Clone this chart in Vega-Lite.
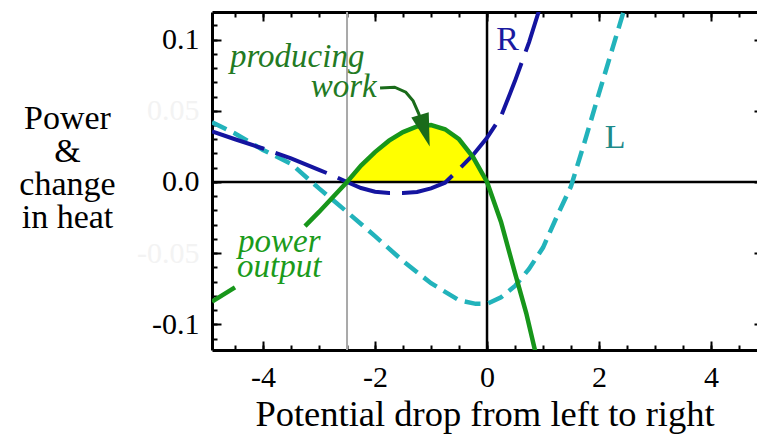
{
  "$schema": "https://vega.github.io/schema/vega-lite/v6.json",
  "width": 545,
  "height": 338,
  "autosize": "none",
  "padding": {"left": 212, "top": 12, "right": 0, "bottom": 84},
  "background": "white",
  "config": {
    "view": {"stroke": null},
    "font": "Liberation Serif",
    "axis": {"grid": false, "tickColor": "black", "tickWidth": 2, "domainColor": "black", "domainWidth": 3, "labelFont": "Liberation Serif", "titleFont": "Liberation Serif", "labelColor": "black", "titleColor": "black"},
    "text": {"font": "Liberation Serif"}
  },
  "datasets": {
    "green": [
      {"x": -4.91, "y": -0.084, "seg": "a"},
      {"x": -4.5, "y": -0.074, "seg": "a"},
      {"x": -3.25, "y": -0.031, "seg": "b"},
      {"x": -3.0, "y": -0.021, "seg": "b"},
      {"x": -2.75, "y": -0.0105, "seg": "b"},
      {"x": -2.5, "y": 0.0, "seg": "b"},
      {"x": -2.25, "y": 0.0115, "seg": "b"},
      {"x": -2.0, "y": 0.021, "seg": "b"},
      {"x": -1.75, "y": 0.029, "seg": "b"},
      {"x": -1.5, "y": 0.035, "seg": "b"},
      {"x": -1.25, "y": 0.039, "seg": "b"},
      {"x": -1.0, "y": 0.040, "seg": "b"},
      {"x": -0.75, "y": 0.037, "seg": "b"},
      {"x": -0.5, "y": 0.030, "seg": "b"},
      {"x": -0.25, "y": 0.0175, "seg": "b"},
      {"x": 0.0, "y": 0.0, "seg": "b"},
      {"x": 0.25, "y": -0.028, "seg": "b"},
      {"x": 0.5, "y": -0.064, "seg": "b"},
      {"x": 0.7, "y": -0.092, "seg": "b"},
      {"x": 0.88, "y": -0.122, "seg": "b"}
    ],
    "blue": [
      {"x": -4.91, "y": 0.0355},
      {"x": -4.5, "y": 0.030},
      {"x": -4.0, "y": 0.0235},
      {"x": -3.5, "y": 0.0165},
      {"x": -3.0, "y": 0.0085},
      {"x": -2.75, "y": 0.0045},
      {"x": -2.5, "y": 0.0},
      {"x": -2.25, "y": -0.0042},
      {"x": -2.0, "y": -0.0068},
      {"x": -1.75, "y": -0.0078},
      {"x": -1.5, "y": -0.0078},
      {"x": -1.25, "y": -0.007},
      {"x": -1.0, "y": -0.0045},
      {"x": -0.75, "y": -0.0005},
      {"x": -0.5, "y": 0.009},
      {"x": -0.25, "y": 0.019},
      {"x": 0.0, "y": 0.031},
      {"x": 0.25, "y": 0.046},
      {"x": 0.5, "y": 0.071},
      {"x": 0.75, "y": 0.098},
      {"x": 0.95, "y": 0.123}
    ],
    "cyan": [
      {"x": -4.91, "y": 0.042},
      {"x": -4.5, "y": 0.034},
      {"x": -4.0, "y": 0.0225},
      {"x": -3.5, "y": 0.0128},
      {"x": -3.0, "y": -0.0045},
      {"x": -2.5, "y": -0.021},
      {"x": -2.0, "y": -0.038},
      {"x": -1.5, "y": -0.0555},
      {"x": -1.0, "y": -0.071},
      {"x": -0.5, "y": -0.083},
      {"x": -0.2, "y": -0.0855},
      {"x": 0.0, "y": -0.0855},
      {"x": 0.25, "y": -0.081},
      {"x": 0.5, "y": -0.073},
      {"x": 0.75, "y": -0.061},
      {"x": 1.0, "y": -0.046},
      {"x": 1.25, "y": -0.024},
      {"x": 1.5, "y": -0.003},
      {"x": 1.75, "y": 0.029},
      {"x": 2.0, "y": 0.0623},
      {"x": 2.25, "y": 0.095},
      {"x": 2.45, "y": 0.121}
    ],
    "arrow": [
      {"x": -1.91, "y": 0.066},
      {"x": -1.65, "y": 0.0665},
      {"x": -1.45, "y": 0.063},
      {"x": -1.32, "y": 0.057},
      {"x": -1.22, "y": 0.048},
      {"x": -1.17, "y": 0.042}
    ]
  },
  "resolve": {"axis": {"x": "independent", "y": "independent"}},
  "layer": [
    {
      "data": {"name": "green"},
      "transform": [{"filter": "datum.x >= -2.5 && datum.x <= 0"}],
      "mark": {"type": "area", "color": "#ffff00", "clip": true},
      "encoding": {
        "x": {"field": "x", "type": "quantitative", "scale": {"domain": [-4.911, 4.821], "nice": false, "zero": false},
          "axis": {"orient": "bottom", "values": [-4, -2, 0, 2, 4], "format": "d", "labelExpr": "replace(datum.label, '−', '-')", "tickSize": -9, "labelPadding": 21, "labelFontSize": 30, "domain": true, "title": "Potential drop from left to right", "titleFontSize": 36.5, "titleFontWeight": "normal", "titleBaseline": "alphabetic", "titleY": 75}},
        "y": {"field": "y", "type": "quantitative", "scale": {"domain": [-0.1179, 0.1193], "nice": false, "zero": false},
          "axis": {"orient": "left", "values": [-0.1, 0, 0.1], "format": ".1f", "labelExpr": "replace(datum.label, '−', '-')", "tickSize": -9, "labelPadding": 22, "labelFontSize": 30, "domain": true, "title": ["Power", "&", "change", "in heat"], "titleAngle": 0, "titleAlign": "center", "titleBaseline": "top", "titleX": -145, "titleY": 89, "titleFontSize": 34, "titleFontWeight": "normal", "titleLineHeight": 33}},
        "y2": {"datum": 0}
      }
    },
    {
      "data": {"values": [{"x": -2.5}]},
      "mark": {"type": "rule", "color": "#a9a9a9", "strokeWidth": 2},
      "encoding": {
        "x": {"field": "x", "type": "quantitative", "scale": {"domain": [-4.911, 4.821], "nice": false, "zero": false},
          "axis": {"orient": "bottom", "values": [-4.5, -4, -3.5, -3, -2.5, -2, -1.5, -1, -0.5, 0, 0.5, 1, 1.5, 2, 2.5, 3, 3.5, 4, 4.5], "labels": false, "tickSize": -5, "domain": false, "title": null}}
      }
    },
    {
      "data": {"values": [{"x": 0}]},
      "mark": {"type": "rule", "color": "black", "strokeWidth": 2.5},
      "encoding": {
        "x": {"field": "x", "type": "quantitative", "scale": {"domain": [-4.911, 4.821], "nice": false, "zero": false},
          "axis": {"orient": "top", "values": [-4, -2, 0, 2, 4], "labels": false, "tickSize": -9, "domain": true, "title": null}}
      }
    },
    {
      "data": {"values": [{"y": 0}]},
      "mark": {"type": "rule", "color": "black", "strokeWidth": 2.5},
      "encoding": {
        "y": {"field": "y", "type": "quantitative", "scale": {"domain": [-0.1179, 0.1193], "nice": false, "zero": false},
          "axis": {"orient": "left", "values": [-0.11, -0.1, -0.09, -0.08, -0.07, -0.06, -0.05, -0.04, -0.03, -0.02, -0.01, 0, 0.01, 0.02, 0.03, 0.04, 0.05, 0.06, 0.07, 0.08, 0.09, 0.1, 0.11], "labels": false, "tickSize": -5, "domain": false, "title": null}}
      }
    },
    {
      "data": {"name": "cyan"},
      "mark": {"type": "line", "color": "#22b3bb", "strokeWidth": 4.5, "strokeDash": [16, 8], "clip": true},
      "encoding": {
        "x": {"field": "x", "type": "quantitative", "scale": {"domain": [-4.911, 4.821], "nice": false, "zero": false},
          "axis": {"orient": "top", "values": [-4.5, -4, -3.5, -3, -2.5, -2, -1.5, -1, -0.5, 0, 0.5, 1, 1.5, 2, 2.5, 3, 3.5, 4, 4.5], "labels": false, "tickSize": -5, "domain": false, "title": null}},
        "y": {"field": "y", "type": "quantitative", "scale": {"domain": [-0.1179, 0.1193], "nice": false, "zero": false},
          "axis": {"orient": "right", "values": [-0.1, -0.05, 0, 0.05, 0.1], "labels": false, "tickSize": -3, "domain": false, "title": null}}
      }
    },
    {
      "data": {"name": "blue"},
      "mark": {"type": "line", "color": "#1414a0", "strokeWidth": 4, "strokeDash": [55, 12], "clip": true},
      "encoding": {
        "x": {"field": "x", "type": "quantitative", "axis": null},
        "y": {"field": "y", "type": "quantitative", "axis": null}
      }
    },
    {
      "data": {"name": "green"},
      "mark": {"type": "line", "color": "#17961a", "strokeWidth": 4.5, "clip": true},
      "encoding": {
        "x": {"field": "x", "type": "quantitative", "axis": null},
        "y": {"field": "y", "type": "quantitative",
          "axis": {"orient": "left", "values": [-0.05, 0.05], "format": ".2f", "labelExpr": "replace(datum.label, '−', '-')", "labelColor": "#f3f3f3", "labelFontSize": 30, "labelPadding": 22, "tickSize": -9, "domain": false, "title": null}},
        "detail": {"field": "seg"}
      }
    },
    {
      "data": {"name": "arrow"},
      "mark": {"type": "line", "color": "#1a6b1a", "strokeWidth": 3},
      "encoding": {
        "x": {"field": "x", "type": "quantitative", "axis": null},
        "y": {"field": "y", "type": "quantitative", "axis": null}
      }
    },
    {
      "data": {"values": [{"x": -1.11, "y": 0.036}]},
      "mark": {"type": "point", "shape": "M -0.55 -1 L 0.55 -1 L 0 1 Z", "filled": true, "opacity": 1, "color": "#1a6b1a", "size": 1100, "angle": -17},
      "encoding": {
        "x": {"field": "x", "type": "quantitative", "axis": null},
        "y": {"field": "y", "type": "quantitative", "axis": null}
      }
    },
    {
      "data": {"values": [{"x": -3.39, "y": 0.0807, "t": "producing"}, {"x": -2.56, "y": 0.0596, "t": "work"}]},
      "mark": {"type": "text", "fontStyle": "italic", "fontSize": 33, "color": "#237a23", "align": "center", "baseline": "alphabetic"},
      "encoding": {
        "x": {"field": "x", "type": "quantitative", "axis": null},
        "y": {"field": "y", "type": "quantitative", "axis": null},
        "text": {"field": "t"}
      }
    },
    {
      "data": {"values": [{"x": -3.71, "y": -0.0491, "t": "power"}, {"x": -3.71, "y": -0.0667, "t": "output"}]},
      "mark": {"type": "text", "fontStyle": "italic", "fontSize": 33, "color": "#1b9b1b", "align": "center", "baseline": "alphabetic"},
      "encoding": {
        "x": {"field": "x", "type": "quantitative", "axis": null},
        "y": {"field": "y", "type": "quantitative", "axis": null},
        "text": {"field": "t"}
      }
    },
    {
      "data": {"values": [{"x": 0.366, "y": 0.0926, "t": "R"}]},
      "mark": {"type": "text", "fontSize": 34, "color": "#1a1aa0", "align": "center", "baseline": "alphabetic"},
      "encoding": {
        "x": {"field": "x", "type": "quantitative", "axis": null},
        "y": {"field": "y", "type": "quantitative", "axis": null},
        "text": {"field": "t"}
      }
    },
    {
      "data": {"values": [{"x": 2.29, "y": 0.0239, "t": "L"}]},
      "mark": {"type": "text", "fontSize": 34, "color": "#1f8a8a", "align": "center", "baseline": "alphabetic"},
      "encoding": {
        "x": {"field": "x", "type": "quantitative", "axis": null},
        "y": {"field": "y", "type": "quantitative", "axis": null},
        "text": {"field": "t"}
      }
    }
  ]
}
